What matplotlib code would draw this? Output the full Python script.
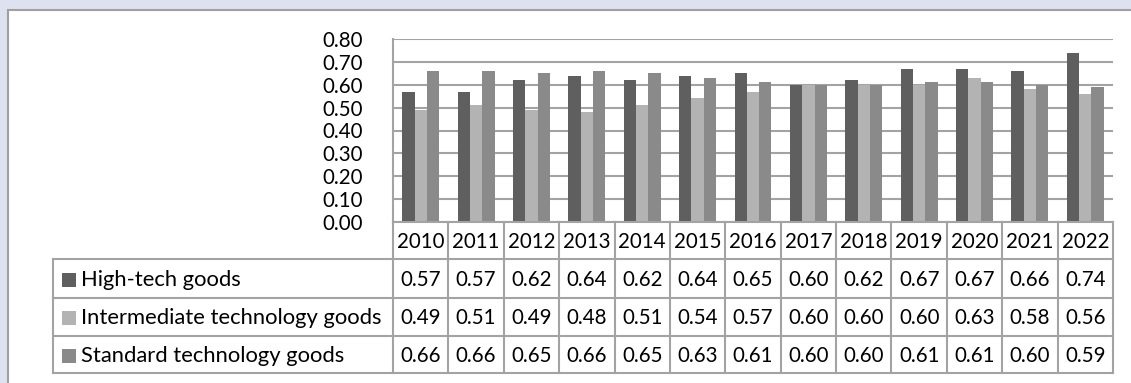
import matplotlib.pyplot as plt
import numpy as np
from matplotlib.patches import Rectangle

years = ['2010', '2011', '2012', '2013', '2014', '2015', '2016',
         '2017', '2018', '2019', '2020', '2021', '2022']
series_names = ['High-tech goods', 'Intermediate technology goods', 'Standard technology goods']
high_tech = [0.57, 0.57, 0.62, 0.64, 0.62, 0.64, 0.65, 0.60, 0.62, 0.67, 0.67, 0.66, 0.74]
intermediate = [0.49, 0.51, 0.49, 0.48, 0.51, 0.54, 0.57, 0.60, 0.60, 0.60, 0.63, 0.58, 0.56]
standard = [0.66, 0.66, 0.65, 0.66, 0.65, 0.63, 0.61, 0.60, 0.60, 0.61, 0.61, 0.60, 0.59]
y_ticks = [0.0, 0.1, 0.2, 0.3, 0.4, 0.5, 0.6, 0.7, 0.8]

colors = ['#5f5f5f', '#b3b3b3', '#8a8a8a']
grid_c = '#a3a3a3'
FONT = 'Lato'
FS = 14.8       # numbers
FS_LAB = 15.8   # series names

W, H = 1131, 383
fig = plt.figure(figsize=(W / 100, H / 100), dpi=100)
fig.patch.set_facecolor('#dde1f0')

# white panel with grey border (runs off the right and bottom edges)
fig.patches.append(Rectangle((7.5 / W, -0.1), 1.2, 0.1 + (H - 9.5) / H, transform=fig.transFigure,
                             facecolor='white', edgecolor='#a0a0a0', lw=1.5, zorder=-5))

# bar area, pixel layout
x0, x1 = 393, 1113
ytop, ybot = 39, 222
ax = fig.add_axes([x0 / W, (H - ybot) / H, (x1 - x0) / W, (ybot - ytop) / H])
ax.set_facecolor('none')
n = len(years)
x = np.arange(n)
bw = 0.222
for k, vals in enumerate([high_tech, intermediate, standard]):
    ax.bar(x + (k - 1) * bw, vals, width=bw, color=colors[k], zorder=3)
ax.set_xlim(-0.5, n - 0.5)
ax.set_ylim(0, 0.8)
ax.set_yticks(y_ticks)
ax.set_yticklabels(['%.2f' % v for v in y_ticks], fontfamily=FONT, fontsize=FS)
ax.tick_params(axis='y', length=0, pad=22)
ax.set_xticks([])
ax.grid(axis='y', color=grid_c, lw=1.5, zorder=0)
for s in ['top', 'right', 'bottom']:
    ax.spines[s].set_visible(False)
ax.spines['left'].set_color(grid_c)
ax.spines['left'].set_linewidth(1.5)

# data table below the bars
tl, tr = 53, 1113
rows_y = [222, 259, 298, 336, 373]
tab = fig.add_axes([tl / W, (H - 373) / H, (tr - tl) / W, (373 - 222) / H])
tab.set_xlim(tl, tr)
tab.set_ylim(373, 222)
tab.axis('off')
colw = (x1 - x0) / n
lw = 1.5
# horizontal lines
tab.plot([x0, x1], [rows_y[0], rows_y[0]], color=grid_c, lw=lw, clip_on=False)
for yy in rows_y[1:]:
    tab.plot([tl, x1], [yy, yy], color=grid_c, lw=lw, clip_on=False)
# vertical lines
tab.plot([tl, tl], [rows_y[1], rows_y[-1]], color=grid_c, lw=lw, clip_on=False)
for i in range(n + 1):
    xx = x0 + i * colw
    tab.plot([xx, xx], [rows_y[0], rows_y[-1]], color=grid_c, lw=lw, clip_on=False)

for i, yr in enumerate(years):
    tab.text(x0 + (i + 0.5) * colw, (rows_y[0] + rows_y[1]) / 2 + 1, yr,
             ha='center', va='center', fontfamily=FONT, fontsize=FS)
for r, vals in enumerate([high_tech, intermediate, standard]):
    yc = (rows_y[r + 1] + rows_y[r + 2]) / 2 + 1
    tab.add_patch(Rectangle((62, yc - 7), 14, 14, facecolor=colors[r], edgecolor='none'))
    tab.text(81, yc, series_names[r], ha='left', va='center', fontfamily=FONT, fontsize=FS_LAB)
    for i, v in enumerate(vals):
        tab.text(x0 + (i + 0.5) * colw, yc, '%.2f' % v,
                 ha='center', va='center', fontfamily=FONT, fontsize=FS)

fig.savefig('out.png', dpi=100, facecolor=fig.get_facecolor())
